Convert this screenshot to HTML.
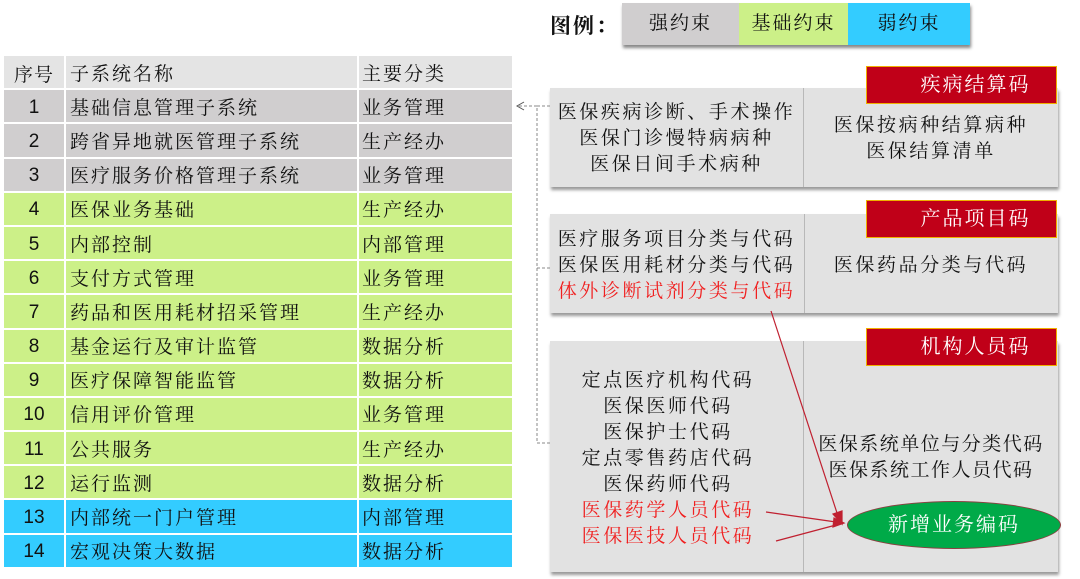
<!DOCTYPE html>
<html><head><meta charset="utf-8"><style>
body{margin:0;width:1080px;height:579px;background:#fff;position:relative;overflow:hidden;font-family:"Liberation Serif","Noto Serif CJK SC",serif;color:#111}
.a{position:absolute}
table{position:absolute;left:2px;top:54px;border-collapse:collapse;width:512px}
td{height:32.2px;padding:0;border:2px solid #fff;font-size:19px;letter-spacing:2px;white-space:nowrap}
td.n{width:60px;text-align:center;font-family:"Liberation Sans",sans-serif;letter-spacing:0;padding-top:3px;height:29.2px}
td.c{width:150px;padding-left:3px}
td.m{padding-left:4px}
.g td{background:#d0cecf}.l td{background:#ccf088}.b td{background:#33ccff}.h td{background:#e4e4e4}
.box{position:absolute;background:#e2e2e2;box-shadow:1px 3px 3px #999}
.div{position:absolute;top:0;bottom:0;width:1px;background:#b8b8b8}
.t{position:absolute;text-align:center;font-size:19px;line-height:26px;letter-spacing:2.6px}
.red{position:absolute;background:#c00018;border:1px solid #f0b000;color:#fff;font-size:20px;text-align:center;letter-spacing:2px;box-sizing:border-box;padding-left:28px}
.r{color:#f02020}
</style></head><body>
<div class="a" style="left:550px;top:10px;font-size:21px;font-weight:bold;letter-spacing:2px">图例：</div>
<div class="a" style="left:622px;top:3px;width:348px;height:42px;box-shadow:1px 3px 3px #888;display:flex;font-size:19px;letter-spacing:2px">
<div style="width:117px;background:#d0cecf;text-align:center;line-height:42px">强约束</div>
<div style="width:109px;background:#ccf088;text-align:center;line-height:42px">基础约束</div>
<div style="width:122px;background:#33ccff;text-align:center;line-height:42px">弱约束</div></div>
<table>
<tr class="h"><td class="n" style="font-family:'Liberation Serif','Noto Serif CJK SC',serif;letter-spacing:1px">序号</td><td class="m">子系统名称</td><td class="c">主要分类</td></tr>
<tr class="g"><td class="n">1</td><td class="m">基础信息管理子系统</td><td class="c">业务管理</td></tr>
<tr class="g"><td class="n">2</td><td class="m">跨省异地就医管理子系统</td><td class="c">生产经办</td></tr>
<tr class="g"><td class="n">3</td><td class="m">医疗服务价格管理子系统</td><td class="c">业务管理</td></tr>
<tr class="l"><td class="n">4</td><td class="m">医保业务基础</td><td class="c">生产经办</td></tr>
<tr class="l"><td class="n">5</td><td class="m">内部控制</td><td class="c">内部管理</td></tr>
<tr class="l"><td class="n">6</td><td class="m">支付方式管理</td><td class="c">业务管理</td></tr>
<tr class="l"><td class="n">7</td><td class="m">药品和医用耗材招采管理</td><td class="c">生产经办</td></tr>
<tr class="l"><td class="n">8</td><td class="m">基金运行及审计监管</td><td class="c">数据分析</td></tr>
<tr class="l"><td class="n">9</td><td class="m">医疗保障智能监管</td><td class="c">数据分析</td></tr>
<tr class="l"><td class="n">10</td><td class="m">信用评价管理</td><td class="c">业务管理</td></tr>
<tr class="l"><td class="n">11</td><td class="m">公共服务</td><td class="c">生产经办</td></tr>
<tr class="l"><td class="n">12</td><td class="m">运行监测</td><td class="c">数据分析</td></tr>
<tr class="b"><td class="n">13</td><td class="m">内部统一门户管理</td><td class="c">内部管理</td></tr>
<tr class="b"><td class="n">14</td><td class="m">宏观决策大数据</td><td class="c">数据分析</td></tr>
</table>

<div class="box" style="left:550px;top:88px;width:508px;height:99px"><div class="div" style="left:253px"></div></div>
<div class="t" style="left:550px;top:100px;width:253px">医保疾病诊断、手术操作<br>医保门诊慢特病病种<br>医保日间手术病种</div>
<div class="t" style="left:804px;top:113px;width:254px">医保按病种结算病种<br>医保结算清单</div>
<div class="red" style="left:866px;top:66px;width:191px;height:38px;line-height:37px">疾病结算码</div>

<div class="box" style="left:550px;top:214px;width:508px;height:99px"><div class="div" style="left:254px"></div></div>
<div class="t" style="left:550px;top:227px;width:253px">医疗服务项目分类与代码<br>医保医用耗材分类与代码<br><span class="r">体外诊断试剂分类与代码</span></div>
<div class="t" style="left:804px;top:253px;width:254px">医保药品分类与代码</div>
<div class="red" style="left:866px;top:200px;width:191px;height:38px;line-height:37px">产品项目码</div>

<div class="box" style="left:550px;top:341px;width:508px;height:231px"><div class="div" style="left:253px"></div></div>
<div class="t" style="left:550px;top:368px;width:236px">定点医疗机构代码<br>医保医师代码<br>医保护士代码<br>定点零售药店代码<br>医保药师代码<br><span class="r">医保药学人员代码<br>医保医技人员代码</span></div>
<div class="t" style="left:804px;top:432px;width:254px;letter-spacing:1.5px">医保系统单位与分类代码<br>医保系统工作人员代码</div>
<div class="red" style="left:866px;top:328px;width:191px;height:38px;line-height:37px">机构人员码</div>
<div class="a" style="left:847px;top:501px;width:212px;height:46px;border-radius:50%;background:#00aa48;border:1px solid #8a4040;color:#fff;font-size:20px;text-align:center;line-height:46px;letter-spacing:2px">新增业务编码</div>

<svg class="a" style="left:0;top:0" width="1080" height="579">
<g stroke="#888" stroke-width="1" stroke-dasharray="3,2" fill="none">
<path d="M550 106 H537 V443 H550"/><path d="M537 268 H550"/><path d="M537 106 H518"/>
</g>
<path d="M524 102 L517 106 L524 110" stroke="#555" fill="none"/>
<g stroke="#c02030" stroke-width="1.2" fill="#c02030">
<line x1="771" y1="311" x2="838" y2="516"/><polygon points="842,524 833,514 842,511"/>
<line x1="766" y1="512" x2="836" y2="522"/><polygon points="844,523 834,518 833,527"/>
<line x1="776" y1="541" x2="836" y2="525"/>
</g>
</svg>
</body></html>
